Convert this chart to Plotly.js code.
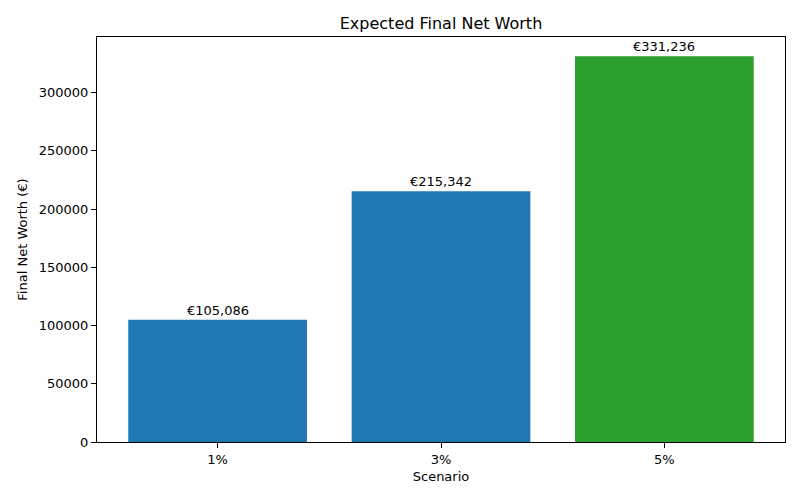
<!DOCTYPE html>
<html>
<head>
<meta charset="utf-8">
<script src="https://cdn.plot.ly/plotly-3.0.1.min.js"></script>
<style>
  body { margin: 0; background: #fff; }
  #chart { width: 800px; height: 500px; }
</style>
</head>
<body>
<div id="chart"></div>
<script>
// Scenario data
var scenarios = ["1%", "3%", "5%"];
var netWorth = [105086, 215342, 331236];
var barColors = ["#1f77b4", "#1f77b4", "#2ca02c"];

// euro labels sitting on top of each bar
var labels = netWorth.map(function(v) {
    return "\u20ac" + v.toLocaleString("en-US");
});

var trace = {
    type: "bar",
    x: [0, 1, 2],
    y: netWorth,
    width: 0.8,
    marker: {color: barColors},
    hoverinfo: "none"
};

var notes = netWorth.map(function(v, i) {
    return {
        x: i, y: v, xref: "x", yref: "y",
        text: labels[i],
        showarrow: false,
        yanchor: "bottom",
        yshift: 0,
        font: {size: 13, color: "#000"}
    };
});

var axisStyle = {
    showline: true,
    linecolor: "#000",
    linewidth: 1,
    mirror: true,
    showgrid: false,
    zeroline: false,
    ticks: "outside",
    ticklen: 5,
    tickcolor: "#000",
    tickfont: {size: 13, color: "#000"}
};

var layout = {
    width: 800,
    height: 500,
    margin: {l: 97, r: 15, t: 37, b: 58},
    paper_bgcolor: "#fff",
    plot_bgcolor: "#fff",
    font: {family: "DejaVu Sans", color: "#000"},
    title: {text: "Expected Final Net Worth", font: {size: 16}, x: 0.5, xref: "paper", y: 1, yref: "paper", yanchor: "bottom", pad: {b: 8}},
    showlegend: false,
    annotations: notes,
    xaxis: Object.assign({}, axisStyle, {
        range: [-0.54, 2.54],
        tickvals: [0, 1, 2],
        ticktext: scenarios,
        title: {text: "Scenario", font: {size: 13}, standoff: 6}
    }),
    yaxis: Object.assign({}, axisStyle, {
        range: [0, 347798],
        dtick: 50000,
        tickformat: "d",
        title: {text: "Final Net Worth (\u20ac)", font: {size: 13}, standoff: 8}
    })
};

Plotly.newPlot("chart", [trace], layout, {displayModeBar: false, staticPlot: true});
</script>
</body>
</html>
